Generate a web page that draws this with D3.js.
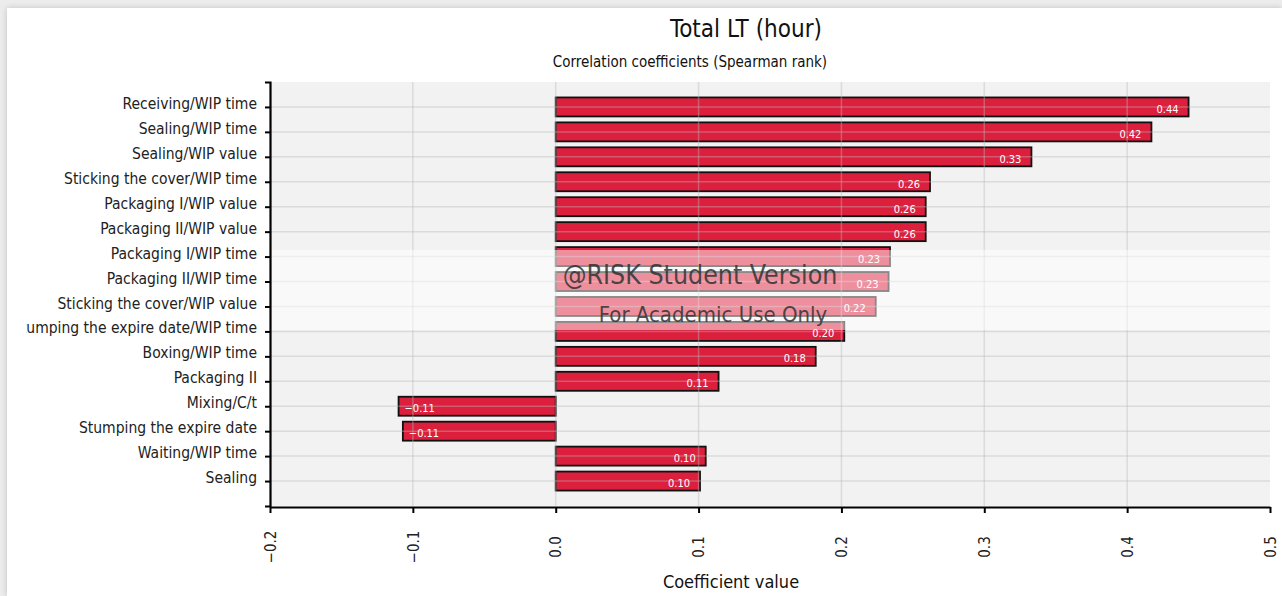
<!DOCTYPE html>
<html>
<head>
<meta charset="utf-8">
<script src="https://cdn.jsdelivr.net/npm/d3@7"></script>
<style>
  html, body { margin: 0; padding: 0; background: #ececec; }
  #card {
    position: absolute; left: 7px; top: 8px; width: 1275px; height: 588px;
    background: #fff; box-shadow: 0 0 6px rgba(0,0,0,0.18);
  }
  svg { position: absolute; left: 0; top: 0; }
  text { font-family: "DejaVu Sans Condensed", "DejaVu Sans", sans-serif; }
</style>
</head>
<body>
<div id="card"></div>
<div id="chart"></div>
<script>
const width = 1282, height = 596;
const margin = {top: 82, right: 12, bottom: 90, left: 270};

const categories = [
  "Receiving/WIP time", "Sealing/WIP time", "Sealing/WIP value",
  "Sticking the cover/WIP time", "Packaging I/WIP value", "Packaging II/WIP value",
  "Packaging I/WIP time", "Packaging II/WIP time", "Sticking the cover/WIP value",
  "Stumping the expire date/WIP time", "Boxing/WIP time", "Packaging II",
  "Mixing/C/t", "Stumping the expire date", "Waiting/WIP time", "Sealing"
];
const coefficients = [
  0.443, 0.417, 0.333, 0.262, 0.259, 0.259,
  0.234, 0.233, 0.224, 0.202, 0.182, 0.114,
  -0.110, -0.107, 0.105, 0.101
];
const xTicks = [-0.2, -0.1, 0.0, 0.1, 0.2, 0.3, 0.4, 0.5];

const svg = d3.select("#chart").append("svg")
  .attr("width", width)
  .attr("height", height);

const x = d3.scaleLinear().domain([-0.2, 0.5]).range([margin.left, width - margin.right]);
const y = d3.scalePoint().domain(categories)
  .range([margin.top, height - margin.bottom]).padding(1);
const barH = 19;

// plot background
svg.append("rect")
  .attr("x", x(-0.2)).attr("y", margin.top)
  .attr("width", x(0.5) - x(-0.2)).attr("height", height - margin.bottom - margin.top)
  .attr("fill", "#f2f2f2");

// bars
svg.append("g").selectAll("rect")
  .data(categories.map((c, i) => ({c, v: coefficients[i]})))
  .join("rect")
  .attr("x", d => x(Math.min(0, d.v)))
  .attr("y", d => y(d.c) - barH / 2)
  .attr("width", d => Math.abs(x(d.v) - x(0)))
  .attr("height", barH)
  .attr("fill", "#dc1f3d")
  .attr("stroke", "#111")
  .attr("stroke-width", 1.8);

// grid drawn on top, semi transparent
const grid = svg.append("g").attr("stroke", "rgba(185,185,185,0.4)").attr("stroke-width", 1.5);
grid.selectAll(".v").data(xTicks.slice(1, -1)).join("line")
  .attr("x1", d => x(d)).attr("x2", d => x(d))
  .attr("y1", margin.top).attr("y2", height - margin.bottom);
grid.selectAll(".h").data(categories).join("line")
  .attr("x1", x(-0.2)).attr("x2", x(0.5))
  .attr("y1", d => y(d)).attr("y2", d => y(d));

// value labels
const fmt = d3.format(".2f");
svg.append("g").selectAll("text")
  .data(categories.map((c, i) => ({c, v: coefficients[i]})))
  .join("text")
  .attr("x", d => d.v >= 0 ? x(d.v) - 10 : x(d.v) + 6)
  .attr("y", d => y(d.c) + 6)
  .attr("text-anchor", d => d.v >= 0 ? "end" : "start")
  .attr("font-size", 11)
  .attr("fill", "#fff")
  .text(d => fmt(d.v));

// watermark band
svg.append("rect")
  .attr("x", x(-0.2)).attr("y", 250)
  .attr("width", width - x(-0.2)).attr("height", 80)
  .attr("fill", "#fff").attr("opacity", 0.5);
svg.append("text")
  .attr("x", 700).attr("y", 284)
  .attr("text-anchor", "middle")
  .attr("font-size", 26.5).attr("fill", "#333").attr("opacity", 0.85)
  .text("@RISK Student Version");
svg.append("text")
  .attr("x", 713).attr("y", 322)
  .attr("text-anchor", "middle")
  .attr("font-size", 22).attr("fill", "#333").attr("opacity", 0.85)
  .text("For Academic Use Only");

// y axis (labels clipped at left)
svg.append("clipPath").attr("id", "yclip").append("rect")
  .attr("x", 26 - margin.left).attr("y", 0).attr("width", width).attr("height", height);
const yAxis = svg.append("g")
  .attr("transform", `translate(${margin.left},0)`)
  .attr("clip-path", "url(#yclip)")
  .call(d3.axisLeft(y).tickSize(5).tickPadding(8));
yAxis.selectAll("text").attr("font-size", 15.5).attr("fill", "#222").attr("dy", "0.1em");
yAxis.select(".domain").attr("stroke-width", 2.2);
yAxis.selectAll(".tick line").attr("stroke-width", 2);

// x axis
const xAxis = svg.append("g")
  .attr("transform", `translate(0,${height - margin.bottom + 1})`)
  .call(d3.axisBottom(x).tickValues(xTicks).tickFormat(d3.format(".1f")).tickSize(6).tickSizeOuter(0));
xAxis.select(".domain").attr("stroke-width", 2.2);
xAxis.selectAll(".tick line").attr("stroke-width", 2);
xAxis.selectAll("text")
  .attr("font-size", 15).attr("fill", "#222")
  .attr("transform", "rotate(-90)")
  .attr("text-anchor", "middle")
  .attr("x", -40).attr("y", 0).attr("dy", "0.35em");

// titles
svg.append("text").attr("x", 746).attr("y", 37).attr("text-anchor", "middle")
  .attr("font-size", 24).attr("fill", "#111").text("Total LT (hour)");
svg.append("text").attr("x", 690).attr("y", 67).attr("text-anchor", "middle")
  .attr("font-size", 15).attr("fill", "#111").text("Correlation coefficients (Spearman rank)");
svg.append("text").attr("x", 731).attr("y", 588).attr("text-anchor", "middle")
  .attr("font-size", 18).attr("fill", "#111").text("Coefficient value");
</script>
</body>
</html>
